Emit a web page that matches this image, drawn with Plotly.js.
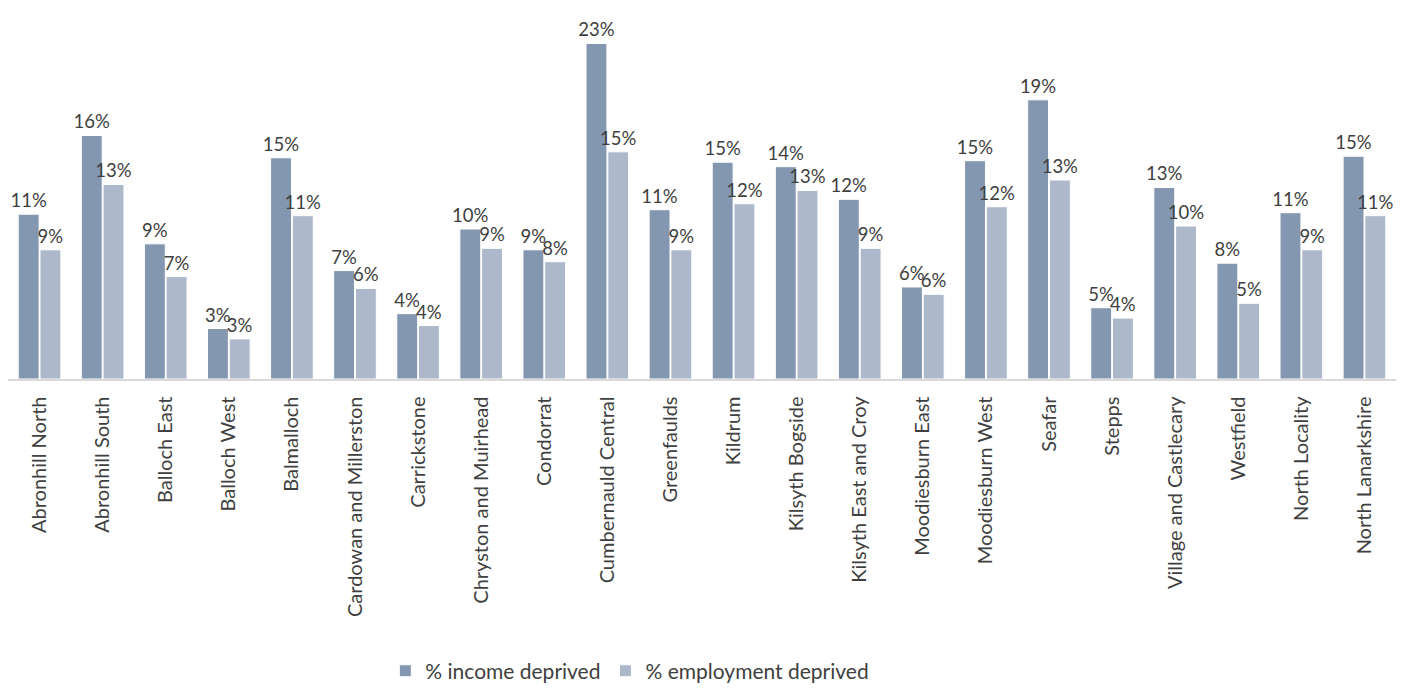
<!DOCTYPE html>
<html>
<head>
<meta charset="utf-8">
<script src="https://cdn.plot.ly/plotly-3.0.1.min.js"></script>
<style>html,body{margin:0;padding:0;background:#fff;}#chart{width:1414px;height:689px;}</style>
</head>
<body>
<div id="chart"></div>
<script>
var categories = ["Abronhill North","Abronhill South","Balloch East","Balloch West","Balmalloch","Cardowan and Millerston","Carrickstone","Chryston and Muirhead","Condorrat","Cumbernauld Central","Greenfaulds","Kildrum","Kilsyth Bogside","Kilsyth East and Croy","Moodiesburn East","Moodiesburn West","Seafar","Stepps","Village and Castlecary","Westfield","North Locality","North Lanarkshire"];
var incomeDeprived = [11.1,16.4,9.1,3.4,14.9,7.3,4.4,10.1,8.7,22.6,11.4,14.6,14.3,12.1,6.2,14.7,18.8,4.8,12.9,7.8,11.2,15.0];
var employmentDeprived = [8.7,13.1,6.9,2.7,11.0,6.1,3.6,8.8,7.9,15.3,8.7,11.8,12.7,8.8,5.7,11.6,13.4,4.1,10.3,5.1,8.7,11.0];

var fontFam = "Lato, sans-serif";
var txtCol = "#404040";
var fs = 20;
var labelSize = 18.5;

var traces = [
  {type:"bar", name:"% income deprived", x:categories, y:incomeDeprived,
   marker:{color:"#8497B0", line:{color:"#ffffff", width:1}},
   texttemplate:"%{y:.0f}%", textposition:"outside", cliponaxis:false,
   textfont:{family:fontFam, size:labelSize, color:txtCol}, hoverinfo:"x+y"},
  {type:"bar", name:"% employment deprived", x:categories, y:employmentDeprived,
   marker:{color:"#ADB9CA", line:{color:"#ffffff", width:1}},
   texttemplate:"%{y:.0f}%", textposition:"outside", cliponaxis:false,
   textfont:{family:fontFam, size:labelSize, color:txtCol}, hoverinfo:"x+y"}
];

var layout = {
  width:1414, height:689,
  margin:{l:8, r:18, t:10, b:310},
  paper_bgcolor:"#ffffff", plot_bgcolor:"#ffffff",
  barmode:"group", bargap:0.31, bargroupgap:0.04,
  uniformtext:{mode:"show", minsize:labelSize},
  font:{family:fontFam, size:fs, color:txtCol},
  xaxis:{tickangle:-90, showline:true, linecolor:"#d9d9d9", linewidth:1.5,
         ticks:"", ticklabelstandoff:8, tickfont:{family:fontFam, size:fs, color:txtCol}, automargin:false},
  yaxis:{range:[0,24.85], visible:false, showgrid:false, zeroline:false},
  showlegend:true,
  legend:{orientation:"h", x:0.448, xanchor:"center", xref:"paper",
          yref:"container", y:0.026, yanchor:"middle",
          font:{family:fontFam, size:21, color:txtCol}, traceorder:"normal", itemwidth:30}
};

Plotly.newPlot("chart", traces, layout, {displayModeBar:false, staticPlot:true});
</script>
</body>
</html>
